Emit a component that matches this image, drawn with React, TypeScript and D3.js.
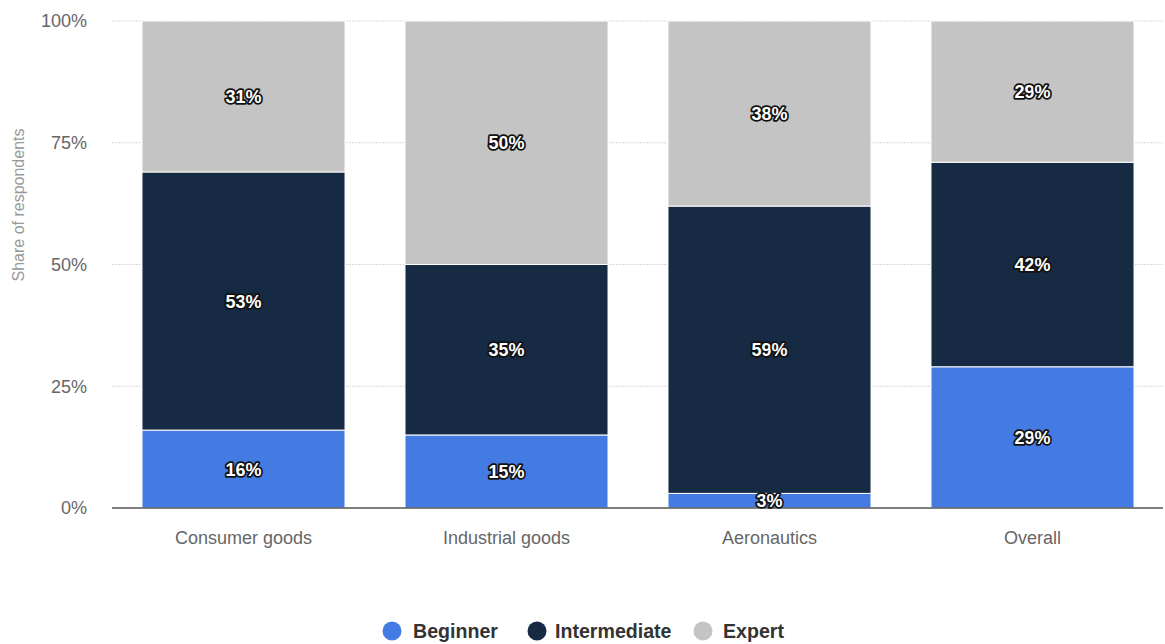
import React from "react";
import * as d3 from "d3";

const categories = ["Consumer goods", "Industrial goods", "Aeronautics", "Overall"];
const seriesNames = ["Beginner", "Intermediate", "Expert"];
const beginner = [16, 15, 3, 29];
const intermediate = [53, 35, 59, 42];
const expert = [31, 50, 38, 29];
const yTicks = [0, 25, 50, 75, 100];
const colors = ["#447be3", "#172a43", "#c4c4c4"];

const W = 1165;
const H = 644;
const left = 112;
const right = 1164;
const top = 21;
const bottom = 508;

export default function App() {
  const x = d3.scaleBand<string>().domain(categories).range([left, right]).paddingInner(0.228).paddingOuter(0.114);
  const y = d3.scaleLinear().domain([0, 100]).range([bottom, top]);
  const rows = categories.map((c, i) => ({
    cat: c,
    Beginner: beginner[i],
    Intermediate: intermediate[i],
    Expert: expert[i],
  }));
  const stacked = d3.stack<any>().keys(seriesNames)(rows);
  const font = "'Liberation Sans', Arial, Helvetica, sans-serif";

  const legendItems = [
    { name: "Beginner", cx: 392, tx: 413 },
    { name: "Intermediate", cx: 537, tx: 555 },
    { name: "Expert", cx: 703, tx: 723 },
  ];

  return (
    <svg width={W} height={H} style={{ position: "absolute", left: 0, top: 0, background: "#fff" }} fontFamily={font}>
      {yTicks.map((t) => (
        <g key={t}>
          {t > 0 && (
            <line x1={left} x2={1163} y1={y(t)} y2={y(t)} stroke="#d8d8d8" strokeWidth={1} strokeDasharray="2,1" />
          )}
          <text x={87} y={y(t)} dy="0.36em" textAnchor="end" fontSize={18} fill="#666">
            {t}%
          </text>
        </g>
      ))}
      <text transform={`translate(24,205) rotate(-90)`} textAnchor="middle" fontSize={16} fill="#999">
        Share of respondents
      </text>
      {stacked.map((s, si) => (
        <g key={s.key}>
          {s.map((d, i) => (
            <rect
              key={i}
              x={x(categories[i])!}
              width={x.bandwidth()}
              y={y(d[1])}
              height={y(d[0]) - y(d[1])}
              fill={colors[si]}
              stroke="#fff"
              strokeWidth={1}
            />
          ))}
        </g>
      ))}
      <line x1={left} x2={1163} y1={bottom} y2={bottom} stroke="#555" strokeWidth={1.5} />
      {stacked.map((s) => (
        <g key={s.key + "l"}>
          {s.map((d, i) => {
            const v = d[1] - d[0];
            const cy = (y(d[0]) + y(d[1])) / 2;
            return (
              <text
                key={i}
                x={x(categories[i])! + x.bandwidth() / 2}
                y={cy}
                dy="0.36em"
                textAnchor="middle"
                fontSize={18}
                fontWeight="bold"
                fill="#fff"
                stroke="#111"
                strokeWidth={3.5}
                strokeLinejoin="round"
                paintOrder="stroke"
              >
                {v}%
              </text>
            );
          })}
        </g>
      ))}
      {categories.map((c) => (
        <text key={c} x={x(c)! + x.bandwidth() / 2} y={544} textAnchor="middle" fontSize={18} fill="#666">
          {c}
        </text>
      ))}
      {legendItems.map((l, i) => (
        <g key={l.name}>
          <circle cx={l.cx} cy={631} r={9.5} fill={colors[i]} />
          <text x={l.tx} y={638} fontSize={19.6} fontWeight="bold" fill="#333">
            {l.name}
          </text>
        </g>
      ))}
    </svg>
  );
}
